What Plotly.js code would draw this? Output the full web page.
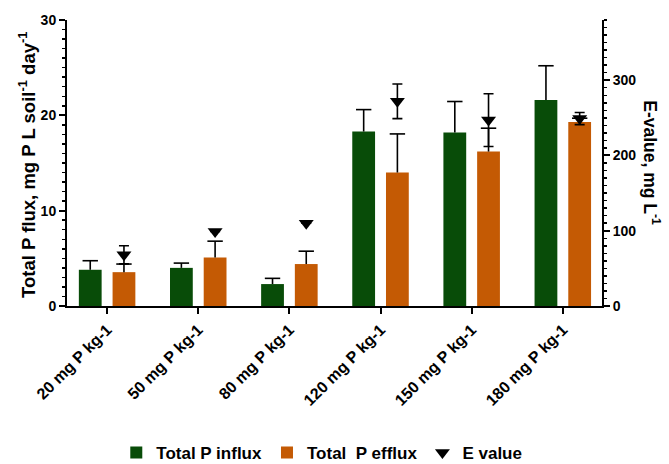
<!DOCTYPE html>
<html>
<head>
<meta charset="utf-8">
<script src="https://cdn.plot.ly/plotly-3.0.1.min.js"></script>
<style>
  html, body { margin: 0; padding: 0; background: #fff; }
  #chart { width: 669px; height: 464px; }
</style>
</head>
<body>
<div id="chart"></div>
<script>
// ---- data ----
var categories = ['20 mg P kg-1', '50 mg P kg-1', '80 mg P kg-1', '120 mg P kg-1', '150 mg P kg-1', '180 mg P kg-1'];
var influx     = [3.8, 4.0, 2.3, 18.3, 18.2, 21.6];
var influxErr  = [0.95, 0.5, 0.6, 2.3, 3.25, 3.6];
var efflux     = [3.55, 5.1, 4.4, 14.0, 16.2, 19.3];
var effluxErr  = [0.85, 1.7, 1.35, 4.05, 2.45, 0.4];
var eValue     = [68, 99, 110, 272, 247, 249];
var eErr       = [12, 0, 0, 23, 35, 8];
var leftTicks  = [0, 10, 20, 30];
var rightTicks = [0, 100, 200, 300];

// ---- styling ----
var GREEN = 'rgb(8,76,8)';
var ORANGE = 'rgb(196,90,4)';
var FONT = 'Liberation Sans, Arial, sans-serif';
var BAR_W = 0.25;
var SHIFT = 0.185;   // half distance between the two bars of a group

var idx = categories.map(function (c, i) { return i; });
var zeros = categories.map(function () { return 0; });

function capTrace(xs, tops, errs) {
  return {
    type: 'scatter', mode: 'markers', x: xs, y: tops,
    showlegend: false, hoverinfo: 'skip',
    marker: { symbol: 'line-ew', size: 11, color: 'black', line: { color: 'black', width: 1.6 } },
    error_y: { type: 'data', symmetric: false, array: zeros, arrayminus: errs, width: 0, thickness: 1.6, color: 'black' }
  };
}

var xG = idx.map(function (i) { return i - SHIFT; });
var xO = idx.map(function (i) { return i + SHIFT; });

var traces = [
  { type: 'bar', name: 'Total P influx', x: idx, y: influx, width: BAR_W, offset: -SHIFT - BAR_W / 2,
    marker: { color: GREEN }, hoverinfo: 'y' },
  { type: 'bar', name: 'Total\u00a0 P efflux', x: idx, y: efflux, width: BAR_W, offset: SHIFT - BAR_W / 2,
    marker: { color: ORANGE }, hoverinfo: 'y' },
  capTrace(xG, influx.map(function (v, i) { return v + influxErr[i]; }), influxErr),
  capTrace(xO, efflux.map(function (v, i) { return v + effluxErr[i]; }), effluxErr),
  { type: 'scatter', mode: 'markers', name: 'E value', x: xO, y: eValue, yaxis: 'y2',
    marker: { symbol: 'triangle-down', size: 13, color: 'black' },
    error_y: { type: 'data', array: eErr, width: 5, thickness: 1.6, color: 'black' } }
];

var tickFont = { family: FONT, size: 14, color: 'black', weight: 'bold' };

var layout = {
  width: 669, height: 464,
  margin: { l: 67, r: 67, t: 20, b: 158 },
  paper_bgcolor: 'white', plot_bgcolor: 'white',
  showlegend: true,
  barmode: 'overlay',
  font: { family: FONT, color: 'black' },
  xaxis: {
    automargin: false,
    range: [-0.44, 5.43], tickvals: idx, ticktext: categories, tickangle: -45,
    showgrid: false, zeroline: false, showline: true, linewidth: 2, linecolor: 'black',
    ticks: 'outside', ticklen: 6, tickwidth: 2, tickcolor: 'black',
    tickfont: { family: FONT, size: 16, color: 'black', weight: 'bold' }
  },
  yaxis: {
    automargin: false,
    range: [0, 30], tickvals: leftTicks, showgrid: false, zeroline: false,
    showline: true, linewidth: 2, linecolor: 'black',
    ticks: 'outside', ticklen: 6, tickwidth: 2, tickcolor: 'black', tickfont: tickFont,
    minor: { dtick: 1, ticks: 'outside', ticklen: 3, tickwidth: 1.5, tickcolor: 'black', showgrid: false }
  },
  yaxis2: {
    automargin: false,
    range: [0, 380], overlaying: 'y', side: 'right', tickvals: rightTicks,
    showgrid: false, zeroline: false, showline: true, linewidth: 2, linecolor: 'black',
    ticks: 'outside', ticklen: 6, tickwidth: 2, tickcolor: 'black', tickfont: tickFont,
    minor: { dtick: 10, ticks: 'outside', ticklen: 3, tickwidth: 1.5, tickcolor: 'black', showgrid: false }
  },
  annotations: [
    { xref: 'paper', yref: 'paper', x: -0.075, y: 0.493, xanchor: 'center', yanchor: 'middle',
      text: 'Total P flux, mg P L soil<sup>-1</sup> day<sup>-1</sup>', textangle: -90, showarrow: false,
      font: { family: FONT, size: 18.5, color: 'black', weight: 'bold' } },
    { xref: 'paper', yref: 'paper', x: 1.093, y: 0.5, xanchor: 'center', yanchor: 'middle',
      text: 'E-value, mg L<sup>-1</sup>', textangle: 90, showarrow: false,
      font: { family: FONT, size: 17.5, color: 'black', weight: 'bold' } }
  ],
  legend: {
    orientation: 'h', xref: 'container', yref: 'container',
    x: 0.481, xanchor: 'center', y: 0.024, yanchor: 'middle',
    font: { family: FONT, size: 17, color: 'black', weight: 'bold' },
    traceorder: 'normal', bgcolor: 'rgba(0,0,0,0)'
  }
};

Plotly.newPlot('chart', traces, layout, { displayModeBar: false, staticPlot: true });
</script>
</body>
</html>
